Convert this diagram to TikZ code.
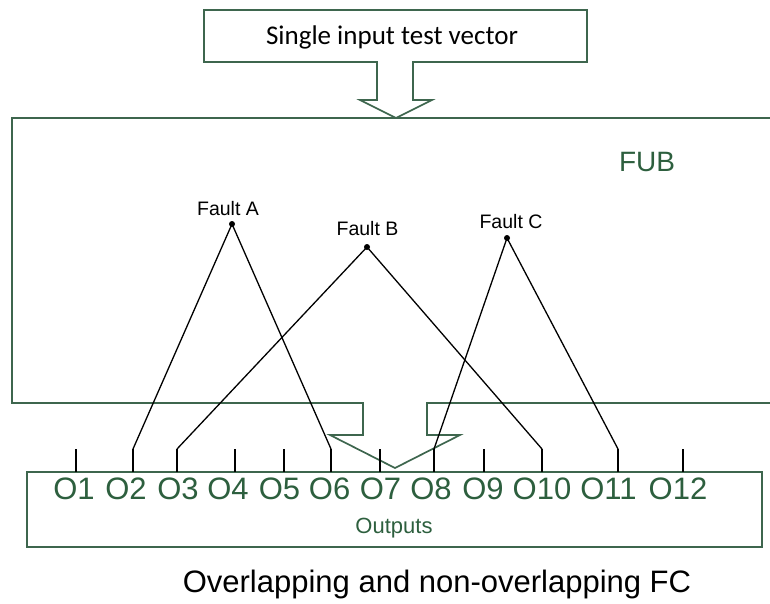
\documentclass[tikz,border=0pt]{standalone}
\usepackage{fontspec}
\setmainfont{Liberation Sans}
\newfontfamily\calibfont{Carlito}
\definecolor{gline}{RGB}{62,102,78}
\definecolor{gtext}{RGB}{45,95,62}
\begin{document}
\begin{tikzpicture}[x=1pt,y=-1pt,
  boxline/.style={draw=gline,line width=1.7pt,line join=miter},
  wire/.style={black,line width=1.3pt},
  olabel/.style={text=gtext,inner sep=0pt,anchor=base,font=\fontsize{31}{31}\selectfont},
  faultlbl/.style={inner sep=0pt,anchor=base,font=\fontsize{19.5}{19.5}\selectfont},
  dotst/.style={circle,fill=black,inner sep=0pt,minimum size=6pt}]
\useasboundingbox (0,0) rectangle (770,603);
% input box with arrow
\draw[boxline] (377,62) -- (204,62) -- (204,10) -- (587,10) -- (587,62) -- (413,62)
  -- (413,100) -- (432,100) -- (396,118) -- (360,100) -- (377,100) -- cycle;
\node[inner sep=0pt,anchor=base,font=\calibfont\fontsize{27}{27}\selectfont] (tv) at (392,44) {Single input test vector};
% FUB block with output arrow
\draw[boxline] (770,118) -- (12,118) -- (12,403) -- (363,403) -- (363,435) -- (330,435)
  -- (395,468) -- (460,435) -- (427,435) -- (427,403) -- (770,403);
\node[text=gtext,inner sep=0pt,anchor=base,font=\fontsize{28}{28}\selectfont] (fub) at (647,171) {FUB};
% outputs box
\draw[boxline] (27,472) rectangle (762,547);
\node[text=gtext,inner sep=0pt,anchor=base,font=\fontsize{22}{22}\selectfont] (outs) at (394,533) {Outputs};
% ticks
\foreach \i/\x in {1/76,2/133,3/177,4/235,5/284,6/331,7/380,8/434,9/484,10/542,11/618,12/683}{
  \coordinate (t\i) at (\x,449);
  \coordinate (b\i) at (\x,472);
  \draw[wire] (t\i) -- (b\i);
}
% output labels
\foreach \i/\x in {1/74,2/126,3/178,4/228,5/279.5,6/329.6,7/380.5,8/431,9/483,10/542,11/608.5,12/678}{
  \node[olabel] (o\i) at (\x,499) {O\i};
}
% faults
\node[dotst] (fa) at (232,224) {};
\node[dotst] (fb) at (367,247) {};
\node[dotst] (fc) at (507,238) {};
\node[faultlbl] (la) at (228,215) {Fault A};
\node[faultlbl] (lb) at (367.5,235) {Fault B};
\node[faultlbl] (lc) at (511,228) {Fault C};
\draw[wire] (t2) -- (fa.center) -- (t6);
\draw[wire] (t3) -- (fb.center) -- (t10);
\draw[wire] (t8) -- (fc.center) -- (t11);
% caption
\node[inner sep=0pt,anchor=base,font=\fontsize{31}{31}\selectfont] (cap) at (437,592) {Overlapping and non-overlapping FC};
\end{tikzpicture}
\end{document}
